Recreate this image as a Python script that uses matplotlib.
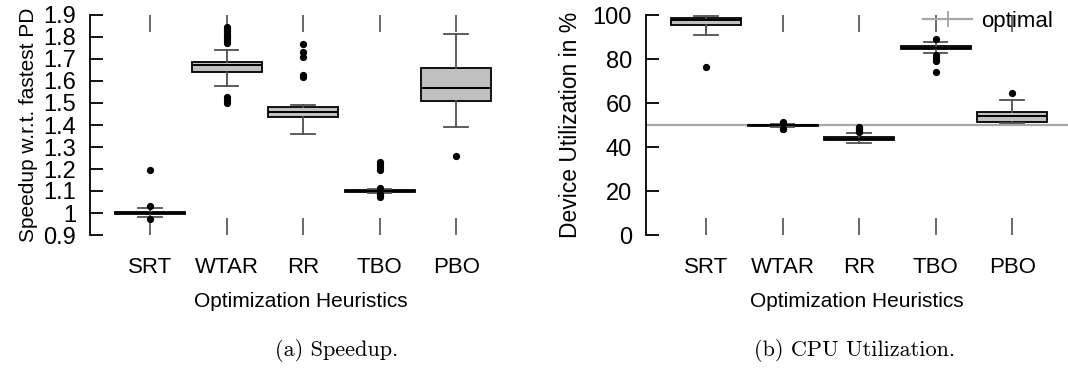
import numpy as np
import matplotlib
matplotlib.use("Agg")
import matplotlib.pyplot as plt
from matplotlib.lines import Line2D
from matplotlib.ticker import FuncFormatter

plt.rcParams['font.family'] = ['Liberation Sans', 'DejaVu Sans']

# data (box stats per heuristic)
labels = ['SRT', 'WTAR', 'RR', 'TBO', 'PBO']

speed_q1  = [0.995, 1.640, 1.435, 1.097, 1.509]
speed_med = [1.000, 1.672, 1.458, 1.100, 1.567]
speed_q3  = [1.004, 1.685, 1.483, 1.103, 1.658]
speed_lo  = [0.983, 1.577, 1.359, 1.092, 1.392]
speed_hi  = [1.024, 1.741, 1.491, 1.107, 1.812]
speed_out = [[1.195, 1.033, 0.971],
             [1.847, 1.835, 1.825, 1.815, 1.805, 1.795, 1.785, 1.775, 1.526, 1.512, 1.501],
             [1.767, 1.730, 1.711, 1.625, 1.618],
             [1.233, 1.222, 1.210, 1.195, 1.115, 1.085, 1.080, 1.075],
             [1.260]]

util_q1  = [95.5, 49.6, 43.0, 84.4, 51.5]
util_med = [97.7, 49.9, 43.7, 85.2, 54.2]
util_q3  = [98.8, 50.2, 44.4, 86.0, 55.8]
util_lo  = [90.9, 49.3, 42.0, 82.6, 50.8]
util_hi  = [99.5, 50.5, 46.5, 87.9, 61.5]
util_out = [[76.5],
            [51.5, 51.0, 48.3, 48.0],
            [49.0, 48.5, 48.0, 47.5, 47.0],
            [89.1, 82.0, 81.0, 80.0, 79.2, 74.2],
            [64.4]]

optimal = 50


def make_stats(q1, med, q3, lo, hi, out):
    return [dict(q1=a, med=b, q3=c, whislo=d, whishi=e, fliers=f, label=l)
            for a, b, c, d, e, f, l in zip(q1, med, q3, lo, hi, out, labels)]


def draw(ax, stats):
    pos = np.arange(1, len(labels) + 1)
    ax.bxp(stats, positions=pos, widths=0.915, patch_artist=True,
           boxprops=dict(facecolor='#c0c0c0', edgecolor='black', linewidth=1.3),
           whiskerprops=dict(color='#505050', linewidth=1.3),
           capprops=dict(color='#505050', linewidth=1.3),
           capwidths=0.31,
           medianprops=dict(color='black', linewidth=1.4),
           flierprops=dict(marker='o', markerfacecolor='black', markeredgecolor='black',
                           markersize=4.2))
    ax.set_xlim(0.216, 5.73)
    for s in ['top', 'right', 'bottom']:
        ax.spines[s].set_visible(False)
    ax.spines['left'].set_linewidth(1.3)
    ax.tick_params(axis='x', direction='in', top=True, bottom=True, length=12,
                   width=1.2, color='#505050', labelsize=16, pad=16)
    ax.tick_params(axis='y', direction='in', length=9, width=1.3, labelsize=17, pad=10)
    ax.set_xticks(pos)
    ax.set_xticklabels(labels)
    ax.set_xlabel('Optimization Heuristics', fontsize=15, labelpad=10)


fig = plt.figure(figsize=(10.68, 3.76), dpi=100)
ax1 = fig.add_axes([90 / 1068, 141 / 376, 422 / 1068, 220 / 376])
ax2 = fig.add_axes([646 / 1068, 141 / 376, 422 / 1068, 220 / 376])

draw(ax1, make_stats(speed_q1, speed_med, speed_q3, speed_lo, speed_hi, speed_out))
ax1.set_ylim(0.9, 1.9)
ax1.set_yticks(np.round(np.arange(0.9, 1.91, 0.1), 1))
ax1.yaxis.set_major_formatter(FuncFormatter(lambda v, p: f'{v:g}'))
ax1.set_ylabel('Speedup w.r.t. fastest PD', fontsize=15, labelpad=4)

ax2.axhline(optimal, color='#a8a8a8', linewidth=1.6, zorder=0)
draw(ax2, make_stats(util_q1, util_med, util_q3, util_lo, util_hi, util_out))
ax2.set_ylim(0, 100)
ax2.set_yticks(np.arange(0, 101, 20))
ax2.set_ylabel('Device Utilization in %', fontsize=16.5, labelpad=8)
h = Line2D([], [], color='#a8a8a8', linewidth=1.6, marker='+', markersize=11,
           markeredgewidth=1.4)
ax2.legend([h], ['optimal'], loc='upper right', frameon=False, fontsize=16,
           handlelength=2.2, handletextpad=0.4, borderaxespad=0.0,
           bbox_to_anchor=(0.985, 1.06))

fig.text(337 / 1068, 1 - 350 / 376, '(a) Speedup.', family='cmr10', fontsize=16,
         ha='center', va='center')
fig.text(855 / 1068, 1 - 350 / 376, '(b) CPU Utilization.', family='cmr10', fontsize=16,
         ha='center', va='center')

fig.savefig('out.png', dpi=100)
